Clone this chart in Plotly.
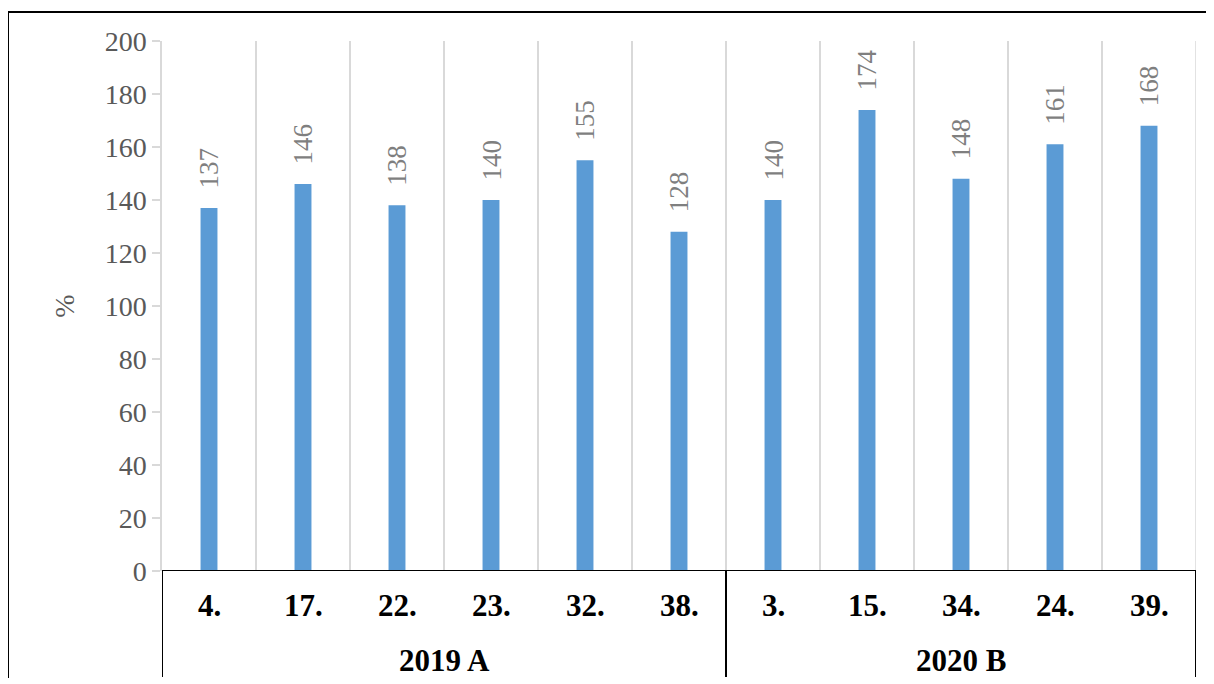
import plotly.graph_objects as go

categories = ["4.", "17.", "22.", "23.", "32.", "38.", "3.", "15.", "34.", "24.", "39."]
values = [137, 146, 138, 140, 155, 128, 140, 174, 148, 161, 168]
groups = ["2019 A", "2020 B"]
group_sizes = [6, 5]
y_ticks = [0, 20, 40, 60, 80, 100, 120, 140, 160, 180, 200]

OFF = 8  # page body margin
W, H = 1214 - OFF, 684 - OFF
# reference pixel positions
PL, PR, PT, PB = 162, 1196, 41, 571
L, T = PL - OFF, PT - OFF
R = W - (PR - OFF)
B = H - (PB - OFF)
pw, ph = PR - PL, PB - PT

def px_x(p):
    return (p - PL) / pw

def px_y(p):
    return (PB - p) / ph

SERIF = "Liberation Serif, Times New Roman, serif"
n = len(categories)
xs = list(range(n))

fig = go.Figure()
fig.add_trace(go.Bar(
    x=xs, y=values, width=0.18,
    marker=dict(color="#5B9BD5", line=dict(width=0)),
    hoverinfo="skip",
))

shapes = []
shapes.append(dict(type="line", xref="x", yref="y", x0=n - 0.5, x1=n - 0.5, y0=0, y1=200,
                   line=dict(color="#D9D9D9", width=1.5), layer="below"))
shapes.append(dict(type="line", xref="x", yref="y", x0=-0.5, x1=n - 0.5, y0=0, y1=0,
                   line=dict(color="black", width=2)))
bounds = [-0.5]
acc = -0.5
for s in group_sizes:
    acc += s
    bounds.append(acc)
for b in bounds:
    shapes.append(dict(type="line", xref="x", yref="paper", x0=b, x1=b, y0=0, y1=px_y(677),
                       line=dict(color="black", width=2)))
shapes.append(dict(type="line", xref="paper", yref="paper", x0=px_x(8), x1=px_x(8),
                   y0=px_y(12), y1=px_y(678), line=dict(color="black", width=2)))
shapes.append(dict(type="line", xref="paper", yref="paper", x0=px_x(8), x1=px_x(1220),
                   y0=px_y(12), y1=px_y(12), line=dict(color="black", width=2)))

annotations = []
for i, v in enumerate(values):
    annotations.append(dict(x=i, y=v, xref="x", yref="y", text=str(v), showarrow=False,
                            textangle=-90, yshift=17, xanchor="center", yanchor="bottom",
                            font=dict(family=SERIF, size=27, color="#7F7F7F")))
for i, c in enumerate(categories):
    annotations.append(dict(x=i, y=px_y(605), xref="x", yref="paper", text=f"<b>{c}</b>",
                            showarrow=False, font=dict(family=SERIF, size=31, color="black"),
                            xanchor="center", yanchor="middle"))
start = 0
for g, s in zip(groups, group_sizes):
    annotations.append(dict(x=start + (s - 1) / 2, y=px_y(660), xref="x", yref="paper",
                            text=f"<b>{g}</b>", showarrow=False,
                            font=dict(family=SERIF, size=31, color="black"),
                            xanchor="center", yanchor="middle"))
    start += s

fig.update_layout(
    width=W, height=H,
    margin=dict(l=L, r=R, t=T, b=B, pad=0),
    paper_bgcolor="white", plot_bgcolor="white",
    showlegend=False,
    shapes=shapes, annotations=annotations,
    xaxis=dict(range=[-0.5, n - 0.5], tickvals=[i + 0.5 for i in range(n - 1)],
               showticklabels=False, showgrid=True, gridcolor="#D9D9D9", gridwidth=1.5,
               zeroline=False, showline=False, ticks=""),
    yaxis=dict(range=[0, 200], tickvals=y_ticks, showgrid=False, zeroline=False,
               showline=True, linecolor="#D9D9D9", linewidth=1.5,
               ticks="outside", ticklen=8, tickcolor="#D9D9D9", tickwidth=1.5,
               tickfont=dict(family=SERIF, size=28, color="#595959"),
               title=dict(text="%", font=dict(family=SERIF, size=28, color="#595959"), standoff=22)),
)

fig.write_html("out.html")
